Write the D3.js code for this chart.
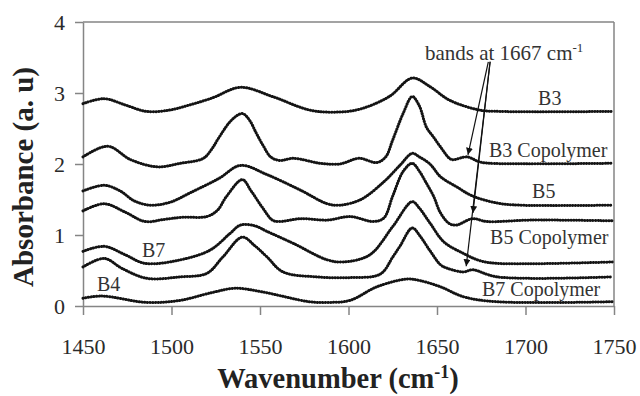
<!DOCTYPE html>
<html><head><meta charset="utf-8">
<script src="https://cdn.jsdelivr.net/npm/d3@7"></script>
<style>
html,body{margin:0;padding:0;background:#fff;}
svg{display:block;}
</style></head>
<body>
<svg id="chart" width="640" height="396"></svg>
<script>
// ---- data ----
const xTicks = [1450, 1500, 1550, 1600, 1650, 1700, 1750];
const yTicks = [0, 1, 2, 3, 4];

const b3W = [1450,1462,1474,1486,1499,1510,1523,1539,1557,1578,1592,1606,1623,1636,1646,1657,1674,1686,1749];
const b3V = [2.85,2.92,2.83,2.74,2.76,2.83,2.93,3.08,2.95,2.76,2.73,2.77,2.95,3.21,3.09,2.90,2.76,2.74,2.74];

const b3cW = [1450,1464,1477,1492,1505,1518,1523,1527,1534,1540,1544,1548,1552,1556,1561,1569,1584,1595,1606,1616,1621,1625,1631,1636,1640,1644,1648,1652,1657,1659,1667,1674,1680,1749];
const b3cV = [2.10,2.25,2.06,1.96,2.01,2.08,2.22,2.38,2.62,2.71,2.62,2.43,2.25,2.10,2.05,2.08,2.01,2.00,2.08,2.02,2.10,2.34,2.72,2.95,2.82,2.52,2.38,2.24,2.08,2.06,2.10,2.03,2.01,2.01];

const b5W = [1450,1462,1471,1479,1488,1499,1511,1527,1539,1554,1573,1588,1595,1607,1620,1629,1636,1640,1646,1652,1661,1670,1684,1697,1749];
const b5V = [1.62,1.70,1.62,1.48,1.42,1.46,1.60,1.80,1.98,1.85,1.63,1.44,1.42,1.50,1.75,1.98,2.15,2.10,2.00,1.82,1.68,1.55,1.45,1.42,1.42];

const b5cW = [1450,1462,1474,1485,1496,1506,1520,1526,1531,1540,1545,1551,1557,1561,1573,1588,1601,1614,1620,1625,1631,1636,1640,1644,1648,1652,1657,1661,1670,1678,1703,1749];
const b5cV = [1.34,1.44,1.32,1.19,1.22,1.25,1.26,1.35,1.54,1.78,1.62,1.40,1.21,1.19,1.23,1.21,1.26,1.19,1.24,1.55,1.90,2.01,1.90,1.73,1.55,1.31,1.16,1.14,1.23,1.19,1.21,1.20];

const b7W = [1450,1462,1474,1485,1505,1522,1533,1539,1547,1554,1569,1588,1597,1612,1625,1636,1640,1646,1654,1665,1674,1684,1749];
const b7V = [0.77,0.84,0.72,0.60,0.65,0.79,1.02,1.14,1.13,1.05,0.88,0.65,0.62,0.72,1.12,1.47,1.38,1.17,0.90,0.74,0.64,0.60,0.62];

const b7cW = [1450,1462,1472,1486,1505,1520,1529,1540,1547,1554,1563,1582,1601,1618,1625,1629,1636,1640,1646,1652,1656,1665,1670,1684,1749];
const b7cV = [0.55,0.67,0.53,0.39,0.41,0.46,0.69,0.97,0.85,0.69,0.48,0.41,0.40,0.45,0.69,0.84,1.10,1.00,0.78,0.58,0.53,0.48,0.51,0.41,0.41];

const b4W = [1450,1461,1486,1505,1523,1536,1551,1578,1589,1601,1616,1633,1640,1652,1665,1684,1749];
const b4V = [0.11,0.14,0.05,0.08,0.19,0.25,0.20,0.06,0.05,0.08,0.27,0.38,0.36,0.27,0.13,0.06,0.06];

const seriesNames = ["B3","B3 Copolymer","B5","B5 Copolymer","B7","B7 Copolymer","B4"];
const seriesW = [b3W,b3cW,b5W,b5cW,b7W,b7cW,b4W];
const seriesV = [b3V,b3cV,b5V,b5cV,b7V,b7cV,b4V];

// labels: [text, wavenumber (left edge), absorbance (baseline)]
const labelText = ["B3","B3 Copolymer","B5","B5 Copolymer","B7 Copolymer","B7","B4"];
const labelW = [1707.1,1679.4,1703.7,1680.0,1675.4,1483.3,1457.9];
const labelA = [2.83,2.10,1.52,0.87,0.14,0.69,0.21];

// annotation arrows: from (w0,a0) to (w1,a1)
const arrowW0 = [1679,1680,1680];
const arrowA0 = [3.44,3.44,3.44];
const arrowW1 = [1667.5,1670.3,1666.5];
const arrowA1 = [2.13,1.31,0.56];

// ---- drawing ----
const svg = d3.select("#chart");
svg.append("rect").attr("width",640).attr("height",396).attr("fill","#fff");

const x = d3.scaleLinear().domain([1450,1750]).range([83,614]);
const y = d3.scaleLinear().domain([0,4]).range([306,22]);

const axisColor = "#858585";
const serif = "'Liberation Serif','Times New Roman',serif";

// frame (top & right)
svg.append("line").attr("x1",x(1450)).attr("x2",x(1750)).attr("y1",y(4)).attr("y2",y(4))
  .attr("stroke",axisColor).attr("stroke-width",1.5);
svg.append("line").attr("x1",x(1750)).attr("x2",x(1750)).attr("y1",y(4)).attr("y2",y(0))
  .attr("stroke",axisColor).attr("stroke-width",1.5);

const yAxis = svg.append("g").attr("transform",`translate(${x(1450)},0)`)
  .call(d3.axisLeft(y).tickValues(yTicks).tickSize(8).tickSizeOuter(0).tickPadding(10).tickFormat(d3.format("d")));
const xAxis = svg.append("g").attr("transform",`translate(0,${y(0)})`)
  .call(d3.axisBottom(x).tickValues(xTicks).tickSize(9).tickSizeOuter(0).tickPadding(23).tickFormat(d3.format("d")));
[yAxis,xAxis].forEach(g=>{
  g.attr("font-family",serif).attr("font-size",22);
  g.select(".domain").attr("stroke",axisColor).attr("stroke-width",1.5);
  g.selectAll(".tick line").attr("stroke",axisColor).attr("stroke-width",1.5);
  g.selectAll(".tick text").attr("fill","#2a2a2a").style("font-family",serif).style("font-size","22px");
});

// curves
const line = d3.line().x(d=>x(d[0])).y(d=>y(d[1])).curve(d3.curveCatmullRom.alpha(0.5));
seriesNames.forEach((name,i)=>{
  const pts = seriesW[i].map((w,j)=>[w, seriesV[i][j]]);
  svg.append("path").attr("d",line(pts)).attr("fill","none")
    .attr("stroke","#141414").attr("stroke-width",3)
    .attr("stroke-linecap","round").attr("stroke-dasharray","0.3,2.4");
});

// series labels
labelText.forEach((t,i)=>{
  svg.append("text").attr("x",x(labelW[i])).attr("y",y(labelA[i]))
    .attr("fill","#333").style("font-family",serif).style("font-size","20px").text(t);
});

// annotation
const ann = svg.append("text").attr("x",x(1643.2)).attr("y",y(3.46))
  .attr("fill","#333").style("font-family",serif).style("font-size","21px");
ann.append("tspan").text("bands at 1667 cm");
ann.append("tspan").attr("dy","-8").style("font-size","13px").text("-1");

svg.append("defs").append("marker").attr("id","ah").attr("viewBox","0 0 10 10")
  .attr("refX",10).attr("refY",5).attr("markerWidth",7).attr("markerHeight",7)
  .attr("markerUnits","userSpaceOnUse").attr("orient","auto")
  .append("path").attr("d","M0,0 L10,5 L0,10 z").attr("fill","#111");
arrowW0.forEach((w,i)=>{
  svg.append("line").attr("x1",x(w)).attr("y1",y(arrowA0[i]))
    .attr("x2",x(arrowW1[i])).attr("y2",y(arrowA1[i]))
    .attr("stroke","#111").attr("stroke-width",1.2).attr("marker-end","url(#ah)");
});

// axis titles
svg.append("text").attr("transform",`translate(33,${(y(0)+y(4))/2+13}) rotate(-90)`)
  .attr("text-anchor","middle").attr("fill","#222")
  .style("font-family",serif).style("font-size","29px").style("font-weight","bold")
  .text("Absorbance (a. u)");
const xt = svg.append("text").attr("x",338).attr("y",388).attr("text-anchor","middle").attr("fill","#222")
  .style("font-family",serif).style("font-size","28.5px").style("font-weight","bold");
xt.append("tspan").text("Wavenumber (cm");
xt.append("tspan").attr("dy","-10").style("font-size","18px").text("-1");
xt.append("tspan").attr("dy","10").text(")");
</script>
</body></html>
